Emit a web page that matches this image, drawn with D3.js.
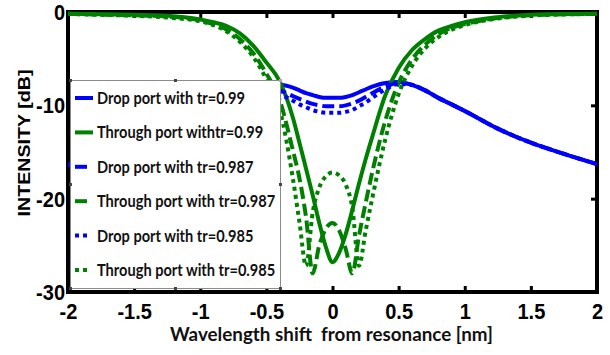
<!DOCTYPE html>
<html>
<head>
<meta charset="utf-8">
<script src="https://cdn.jsdelivr.net/npm/d3@7"></script>
<style>
  body { margin: 0; background: #fff; }
  svg { display: block; }
</style>
</head>
<body>
<script>
// Wavelength shift from resonance [nm] at which the spectra are sampled
const wavelength = [-2, -1.75, -1.5, -1.25, -1, -0.9, -0.8, -0.7, -0.6, -0.5, -0.4, -0.3, -0.25, -0.2, -0.15, -0.1, -0.05, 0,
                    0.05, 0.1, 0.15, 0.2, 0.25, 0.3, 0.4, 0.5, 0.6, 0.7, 0.8, 0.9, 1, 1.25, 1.5, 1.75, 2];

// Drop port intensity [dB]
const dropTr099   = [-16.4, -15.2, -14.0, -12.5, -11.0, -10.3, -9.6, -9.0, -8.4, -8.0, -7.8, -8.1, -8.4, -8.7, -8.9, -9.1, -9.2, -9.2,
                     -9.2, -9.1, -8.9, -8.6, -8.3, -8.0, -7.6, -7.5, -7.8, -8.4, -9.2, -9.9, -10.6, -12.5, -14.0, -15.2, -16.3];
const dropTr0987  = [-16.4, -15.2, -14.0, -12.5, -11.0, -10.3, -9.6, -9.0, -8.5, -8.2, -8.4, -9.0, -9.3, -9.6, -9.85, -10.0, -10.1, -10.1,
                     -10.1, -10.0, -9.8, -9.5, -9.1, -8.7, -8.0, -7.6, -7.8, -8.4, -9.2, -9.9, -10.6, -12.5, -14.0, -15.2, -16.3];
const dropTr0985  = [-16.4, -15.2, -14.0, -12.5, -11.0, -10.3, -9.6, -9.0, -8.6, -8.4, -8.8, -9.5, -9.9, -10.2, -10.5, -10.7, -10.8, -10.8,
                     -10.8, -10.7, -10.5, -10.1, -9.7, -9.2, -8.3, -7.7, -7.8, -8.4, -9.2, -9.9, -10.6, -12.5, -14.0, -15.2, -16.3];

// Through port intensity [dB]
const throughTr099  = [-0.2, -0.25, -0.3, -0.4, -0.8, -1.1, -1.5, -2.3, -3.6, -5.4, -7.4, -11.3, -14.0, -16.8, -19.6, -22.6, -25.2, -26.8,
                       -25.8, -23.8, -21.2, -18.4, -15.8, -13.4, -8.9, -6.0, -4.1, -2.9, -2.0, -1.5, -1.1, -0.55, -0.3, -0.22, -0.2];
const throughTr0987 = [-0.2, -0.28, -0.35, -0.5, -0.9, -1.3, -1.9, -2.9, -4.4, -6.6, -9.4, -14.8, -17.8, -22.0, -28.0, -25.0, -23.2, -22.6,
                       -23.4, -25.4, -28.0, -24.0, -20.5, -17.2, -11.6, -7.6, -5.1, -3.5, -2.4, -1.7, -1.3, -0.65, -0.35, -0.25, -0.2];
const throughTr0985 = [-0.2, -0.3, -0.4, -0.6, -1.0, -1.4, -2.1, -3.2, -4.8, -7.2, -10.4, -17.8, -22.5, -27.2, -21.5, -18.8, -17.6, -17.2,
                       -17.5, -18.5, -21.0, -27.2, -23.5, -20.0, -13.6, -8.8, -5.8, -3.9, -2.7, -1.9, -1.4, -0.7, -0.38, -0.26, -0.2];

const xTicks = [-2, -1.5, -1, -0.5, 0, 0.5, 1, 1.5, 2];
const yTicks = [0, -10, -20, -30];
const legendLabels = [
  "Drop port with tr=0.99",
  "Through port withtr=0.99",
  "Drop port with tr=0.987",
  "Through port with tr=0.987",
  "Drop port with tr=0.985",
  "Through port with tr=0.985"
];

const W = 610, H = 355;
const m = { top: 12, right: 13, bottom: 63, left: 68 };
const x = d3.scaleLinear().domain([-2, 2]).range([m.left, W - m.right]);
const y = d3.scaleLinear().domain([-30, 0]).range([H - m.bottom, m.top]);

const BLUE = "#0000ff", GREEN = "#008000";
const series = [
  { values: dropTr099,     color: BLUE,  dash: null },
  { values: throughTr099,  color: GREEN, dash: null },
  { values: dropTr0987,    color: BLUE,  dash: "12,5" },
  { values: throughTr0987, color: GREEN, dash: "12,5" },
  { values: dropTr0985,    color: BLUE,  dash: "4,4" },
  { values: throughTr0985, color: GREEN, dash: "4,4" }
];

const tickFont = "'Liberation Sans', Arial, sans-serif";
const textFont = "Lato, 'Open Sans', sans-serif";

const svg = d3.select("body").append("svg").attr("width", W).attr("height", H);

// Axes box
svg.append("rect")
  .attr("x", x(-2)).attr("y", y(0))
  .attr("width", x(2) - x(-2)).attr("height", y(-30) - y(0))
  .attr("fill", "none").attr("stroke", "#000").attr("stroke-width", 4);

function styleTicks(g) {
  g.select(".domain").remove();
  g.selectAll(".tick line").attr("stroke", "#000").attr("stroke-width", 3);
}

// Bottom axis with labels
svg.append("g")
  .attr("transform", `translate(0,${y(-30)})`)
  .call(d3.axisBottom(x).tickValues(xTicks).tickSizeInner(-6).tickSizeOuter(0).tickFormat(d => String(d)))
  .call(styleTicks)
  .call(g => g.selectAll(".tick text")
    .attr("y", 0).attr("dy", null)
    .attr("transform", "translate(0,27) scale(1,1.1)")
    .attr("font-family", tickFont).attr("font-size", 20).attr("font-weight", "bold").attr("fill", "#000"));

// Top axis, ticks only
svg.append("g")
  .attr("transform", `translate(0,${y(0)})`)
  .call(d3.axisTop(x).tickValues(xTicks).tickSizeInner(-6).tickSizeOuter(0).tickFormat(""))
  .call(styleTicks);

// Left axis with labels
svg.append("g")
  .attr("transform", `translate(${x(-2)},0)`)
  .call(d3.axisLeft(y).tickValues(yTicks).tickSizeInner(-6).tickSizeOuter(0).tickFormat(d => String(d)))
  .call(styleTicks)
  .call(g => g.selectAll(".tick text")
    .attr("x", -3).attr("y", 0).attr("dy", null)
    .attr("transform", "translate(0,7.5) scale(1,1.1)")
    .attr("font-family", tickFont).attr("font-size", 20).attr("font-weight", "bold").attr("fill", "#000"));

// Right axis, ticks only
svg.append("g")
  .attr("transform", `translate(${x(2)},0)`)
  .call(d3.axisRight(y).tickValues([-10, -20]).tickSizeInner(-6).tickSizeOuter(0).tickFormat(""))
  .call(styleTicks);

// Spectra
svg.append("clipPath").attr("id", "plot-clip")
  .append("rect").attr("x", x(-2)).attr("y", y(0) - 4)
  .attr("width", x(2) - x(-2)).attr("height", y(-30) - y(0) + 4);

const line = d3.line()
  .x((d, i) => x(wavelength[i]))
  .y(d => y(d))
  .curve(d3.curveMonotoneX);

svg.append("g").attr("clip-path", "url(#plot-clip)")
  .selectAll("path").data(series).join("path")
  .attr("d", s => line(s.values))
  .attr("fill", "none")
  .attr("stroke", s => s.color)
  .attr("stroke-width", 4)
  .attr("stroke-linecap", "butt")
  .attr("stroke-linejoin", "round")
  .attr("stroke-dasharray", s => s.dash);

// Legend
const lg = svg.append("g");
const lgBox = { x: 70.5, y: 80.5, w: 210, h: 208 };
lg.append("rect")
  .attr("x", lgBox.x).attr("y", lgBox.y).attr("width", lgBox.w).attr("height", lgBox.h)
  .attr("fill", "#fff").attr("stroke", "#8a8a8a").attr("stroke-width", 1);

const rowY = i => 98 + i * 34.4;
lg.selectAll("line.sym").data(series).join("line")
  .attr("class", "sym")
  .attr("x1", 75).attr("x2", s => s.dash ? 88 : 93)
  .attr("y1", (s, i) => rowY(i)).attr("y2", (s, i) => rowY(i))
  .attr("stroke", s => s.color).attr("stroke-width", 4)
  .attr("stroke-dasharray", s => s.dash);

const labels = lg.selectAll("text.lab").data(legendLabels).join("text")
  .attr("class", "lab")
  .attr("x", 97).attr("y", (d, i) => rowY(i) + 6)
  .attr("font-family", textFont).attr("font-size", 17).attr("font-weight", "bold")
  .attr("fill", "#111")
  .text(d => d);
const natural0 = labels.node().getComputedTextLength();
const squeeze = 148 / natural0;
labels.each(function () {
  const len = this.getComputedTextLength();
  d3.select(this).attr("textLength", len * squeeze).attr("lengthAdjust", "spacingAndGlyphs");
});

// Selection handles on the legend frame
const hx = [lgBox.x, lgBox.x + lgBox.w / 2, lgBox.x + lgBox.w];
const hy = [lgBox.y, lgBox.y + lgBox.h / 2, lgBox.y + lgBox.h];
const handles = [];
hx.forEach((px, i) => hy.forEach((py, j) => { if (!(i === 1 && j === 1)) handles.push([px, py, i === 2 && j === 0]); }));
lg.selectAll("rect.handle").data(handles).join("rect")
  .attr("class", "handle")
  .attr("x", d => d[0] - 1.5).attr("y", d => d[1] - 1.5)
  .attr("width", 3).attr("height", 3)
  .attr("fill", d => d[2] ? "#c996c9" : "#444");

// Axis titles
svg.append("text")
  .attr("transform", `translate(30,143) rotate(-90)`)
  .attr("text-anchor", "middle")
  .attr("font-family", tickFont).attr("font-size", 17).attr("font-weight", "bold")
  .attr("textLength", 147).attr("lengthAdjust", "spacingAndGlyphs")
  .attr("fill", "#000")
  .text("INTENSITY [dB]");

svg.append("text")
  .attr("x", 331.5).attr("y", 341)
  .attr("text-anchor", "middle")
  .style("white-space", "pre")
  .attr("font-family", textFont).attr("font-size", 18).attr("font-weight", "bold")
  .attr("textLength", 323).attr("lengthAdjust", "spacingAndGlyphs")
  .attr("fill", "#111")
  .text("Wavelength shift  from resonance [nm]");
</script>
</body>
</html>
